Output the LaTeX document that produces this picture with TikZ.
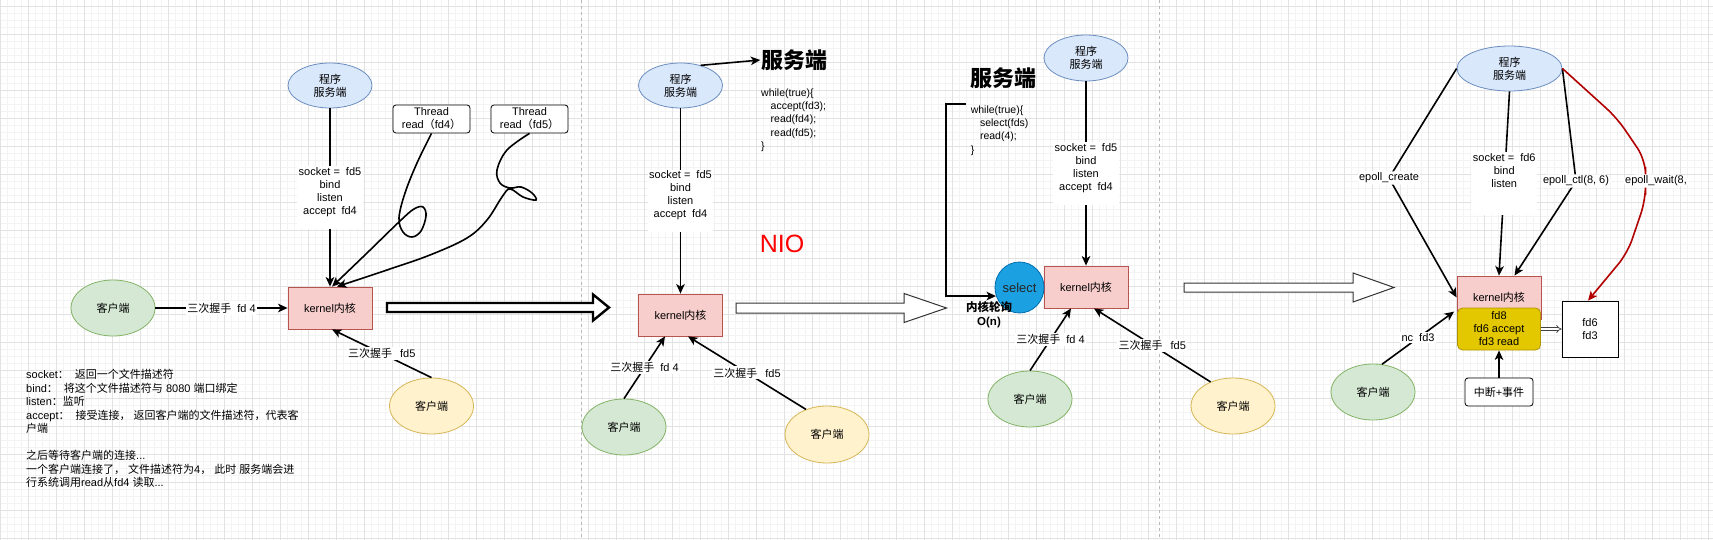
\documentclass[tikz,border=0pt]{standalone}
\usepackage{fontspec}
\setmainfont{Liberation Sans}
\newfontfamily\cjk{Noto Sans CJK SC}
\newcommand\zh[1]{{\cjk #1}}
\usetikzlibrary{arrows.meta,shapes.geometric,calc}
\definecolor{bluefill}{HTML}{DAE8FC}
\definecolor{bluedraw}{HTML}{6C8EBF}
\definecolor{greenfill}{HTML}{D5E8D4}
\definecolor{greendraw}{HTML}{82B366}
\definecolor{yellowfill}{HTML}{FFF2CC}
\definecolor{yellowdraw}{HTML}{D6B656}
\definecolor{redfill}{HTML}{F8CECC}
\definecolor{reddraw}{HTML}{B85450}
\definecolor{selfill}{HTML}{1BA1E2}
\definecolor{seldraw}{HTML}{006EAF}
\definecolor{goldfill}{HTML}{E3C800}
\definecolor{golddraw}{HTML}{B09500}
\definecolor{waitred}{HTML}{B20000}
\definecolor{gridmajor}{HTML}{E2E2E2}
\definecolor{gridminor}{HTML}{F3F3F3}
\definecolor{niored}{HTML}{FF0000}
\definecolor{sepgray}{HTML}{B8B8B8}
\begin{document}
\begin{tikzpicture}[x=1pt,y=-1pt,
  every node/.style={font=\fontsize{11}{13}\selectfont, text=black},
  server/.style={ellipse, draw=bluedraw, fill=bluefill, line width=0.8pt, inner sep=0pt, align=center, minimum width=84pt, minimum height=45pt},
  clientg/.style={ellipse, draw=greendraw, fill=greenfill, line width=0.8pt, inner sep=0pt, minimum width=84pt, minimum height=56pt},
  clienty/.style={ellipse, draw=yellowdraw, fill=yellowfill, line width=0.8pt, inner sep=0pt, minimum width=84pt, minimum height=56pt},
  kernelbox/.style={rectangle, draw=reddraw, fill=redfill, line width=0.8pt, minimum width=84pt, minimum height=42pt, inner sep=0pt},
  threadbox/.style={rectangle, rounded corners=3pt, draw=black, fill=white, line width=0.8pt, minimum width=77pt, minimum height=28pt, inner sep=0pt, align=center},
  plainbox/.style={rectangle, draw=black, fill=white, line width=0.8pt, inner sep=0pt, align=center},
  lbl/.style={fill=white, inner sep=1.5pt, align=center},
  conn/.style={line width=1.6pt, draw=black, -{Stealth[length=9.5pt,width=8.5pt,inset=2.5pt]}},
  hdr/.style={font=\fontsize{22}{26}\selectfont\cjk\bfseries, inner sep=1pt},
  codetext/.style={font=\fontsize{10.5}{13.25}\selectfont, align=left, inner sep=0pt, anchor=north west},
  hollowarrow/.style={line width=1pt, draw=black!80, fill=white, line join=miter},
]
\useasboundingbox (0,0) rectangle (1713,540);
\fill[white] (0,0) rectangle (1713,540);
% grid
\foreach \i in {0,...,245} { \draw[gridminor, line width=0.5pt] ({\i*7+0.3},0) -- ({\i*7+0.3},540); }
\foreach \j in {0,...,77} { \draw[gridminor, line width=0.5pt] (0,{\j*7-1}) -- (1713,{\j*7-1}); }
\foreach \i in {0,...,61} { \draw[gridmajor, line width=0.8pt] ({\i*28+0.3},0) -- ({\i*28+0.3},540); }
\foreach \j in {0,...,19} { \draw[gridmajor, line width=0.8pt] (0,{\j*28+6}) -- (1713,{\j*28+6}); }
% separators
\draw[sepgray, line width=0.8pt, dash pattern=on 3pt off 3pt] (581,0) -- (581,540);
\draw[sepgray, line width=0.8pt, dash pattern=on 3pt off 3pt] (1159,0) -- (1159,540);

% ================= Panel 1 =================
\node[server] (srv1) at (330,85.5) {\zh{程序}\\\zh{服务端}};
\node[threadbox] (t4) at (431.5,119) {Thread\\read\zh{（}fd4\zh{）}};
\node[threadbox] (t5) at (529.5,119) {Thread\\read\zh{（}fd5\zh{）}};
\node[kernelbox] (k1) at (330,308) {kernel\zh{内核}};
\node[clientg] (c1g) at (113,308) {\zh{客户端}};
\node[clienty] (c1y) at (431.5,406) {\zh{客户端}};
\draw[conn] (srv1.south) -- node[lbl]{socket =\hspace{6pt}fd5\\bind\\listen\\accept\hspace{6pt}fd4\\\mbox{}} (k1.north);
\draw[conn] (c1g) -- node[lbl]{\zh{三次握手}\hspace{6pt}fd 4} (k1);
\coordinate (k1a) at ($(k1.south)+(2,0)$);
\draw[conn] (c1y.north) -- node[lbl]{\zh{三次握手}\hspace{8pt}fd5} (k1a);
\coordinate (k1b) at ($(k1.north)+(2,0)$);
\coordinate (k1c) at ($(k1.north)+(7,0)$);
\draw[conn] plot[smooth, tension=0.6] coordinates {(t4.south) (417,163) (405,193) (399,218) (403,232) (412,237) (421,231) (426,216) (423,207) (414,209) (400,221) (366,254) (k1b)};
\draw[conn] plot[smooth, tension=0.6] coordinates {(t5.south) (507,150) (497,170) (500,183) (510,188) (521,187) (532,193) (536,200) (523,197) (510,189) (502,197) (487,220) (467,238) (430,255) (387,270) (k1c)};
\node[anchor=north west, align=left, inner sep=0pt, font=\fontsize{11}{13.5}\selectfont] (notes) at (26,369) {%
socket\zh{：}\hspace{6pt}\zh{返回一个文件描述符}\\
bind\zh{：}\hspace{6pt}\zh{将这个文件描述符与} 8080 \zh{端口绑定}\\
listen\zh{：监听}\\
accept\zh{：}\hspace{6pt}\zh{接受连接，}\hspace{3pt}\zh{返回客户端的文件描述符，代表客}\\
\zh{户端}\\
\mbox{}\\
\zh{之后等待客户端的连接}...\\
\zh{一个客户端连接了，}\hspace{3pt}\zh{文件描述符为}4\zh{，}\hspace{3pt}\zh{此时} \zh{服务端会进}\\
\zh{行系统调用}read\zh{从}fd4 \zh{读取}...};
\draw[line width=2.4pt, draw=black, fill=white, line join=miter] (387,303) -- (593,303) -- (593,294.5) -- (609,307.5) -- (593,320.5) -- (593,312) -- (387,312) -- cycle;

% ================= Panel 2 =================
\node[server] (srv2) at (680.5,85.5) {\zh{程序}\\\zh{服务端}};
\node[hdr] (hdr2) at (794.5,60) {服务端};
\draw[conn] (srv2.45) -- (hdr2.west);
\node[codetext] (code2) at (761,88.5) {while(true)\{\\\hspace*{9.5pt}accept(fd3);\\\hspace*{9.5pt}read(fd4);\\\hspace*{9.5pt}read(fd5);\\\}};
\node[kernelbox] (k2) at (680.5,315) {kernel\zh{内核}};
\draw[conn] (srv2.south) -- node[lbl]{socket =\hspace{6pt}fd5\\bind\\listen\\accept\hspace{6pt}fd4\\\mbox{}} (k2.north);
\node[text=niored, font=\fontsize{25}{28}\selectfont, inner sep=0pt] (nio) at (782,244) {NIO};
\node[clientg] (c2g) at (624,427) {\zh{客户端}};
\node[clienty, minimum height=57pt] (c2y) at (827,434.5) {\zh{客户端}};
\coordinate (k2a) at ($(k2.south)+(-15.5,0)$);
\coordinate (k2b) at ($(k2.south)+(7.5,0)$);
\draw[conn] (c2g.north) -- node[lbl]{\zh{三次握手}\hspace{6pt}fd 4} (k2a);
\draw[conn] (c2y.130) -- node[lbl]{\zh{三次握手}\hspace{8pt}fd5} (k2b);
\draw[hollowarrow] (736,303) -- (904,303) -- (904,293.5) -- (946.5,308) -- (904,322.5) -- (904,313) -- (736,313) -- cycle;

% ================= Panel 3 =================
\node[hdr] (hdr3) at (1003.5,78) {服务端};
\node[server, minimum height=46pt] (srv3) at (1086,58) {\zh{程序}\\\zh{服务端}};
\node[codetext] (code3) at (970.6,105.5) {while(true)\{\\\hspace*{9.2pt}select(fds)\\\hspace*{9.2pt}read(4);\\\}};
\node[kernelbox] (k3) at (1086,287) {kernel\zh{内核}};
\node[ellipse, draw=seldraw, fill=selfill, line width=0.8pt, inner sep=0pt, minimum width=49pt, minimum height=51pt, font=\fontsize{13}{15}\selectfont, text=black!85] (sel) at (1019.5,287.5) {select};
\draw[conn] (srv3.south) -- node[lbl]{socket =\hspace{6pt}fd5\\bind\\listen\\accept\hspace{6pt}fd4\\\mbox{}} (k3.north);
\coordinate (brk) at (966,104);
\draw[conn] (brk) -- (945.7,104) |- (sel.200);
\node[align=center, inner sep=0pt, font=\fontsize{11.5}{14.5}\selectfont\bfseries] (poll) at (989,314.5) {\zh{\bfseries 内核轮询}\\O(n)};
\node[clientg] (c3g) at (1030,399) {\zh{客户端}};
\node[clienty] (c3y) at (1233,406) {\zh{客户端}};
\coordinate (k3a) at ($(k3.south)+(-15,0)$);
\coordinate (k3b) at ($(k3.south)+(8,0)$);
\draw[conn] (c3g.north) -- node[lbl]{\zh{三次握手}\hspace{6pt}fd 4} (k3a);
\draw[conn] (c3y.133) -- node[lbl]{\zh{三次握手}\hspace{8pt}fd5} (k3b);
\draw[hollowarrow] (1184,283) -- (1353,283) -- (1353,273) -- (1394,287.5) -- (1353,302) -- (1353,292) -- (1184,292) -- cycle;

% ================= Panel 4 =================
\node[server, minimum width=105pt] (srv4) at (1509.5,68.5) {\zh{程序}\\\zh{服务端}};
\node[kernelbox, minimum height=43pt] (k4) at (1499,297.5) {kernel\zh{内核}};
\node[rectangle, rounded corners=5pt, draw=golddraw, fill=goldfill, line width=0.8pt, minimum width=83pt, minimum height=42pt, inner sep=0pt, align=center, font=\fontsize{11}{13}\selectfont] (gold) at (1499,329) {fd8\\fd6 accept\\fd3 read};
\node[plainbox, minimum width=56pt, minimum height=56pt] (fdbox) at (1590,329) {fd6\\fd3};
\node[plainbox, rounded corners=3pt, minimum width=68pt, minimum height=28pt] (intr) at (1499,392) {\zh{中断}+\zh{事件}};
\node[clientg] (c4g) at (1373,392) {\zh{客户端}};
\draw[conn, rounded corners=6pt] (srv4.west) -- (1389,178) node[lbl]{epoll\_create} -- (k4.west);
\draw[conn] (srv4.south) -- node[lbl]{socket =\hspace{6pt}fd6\\bind\\listen\\\mbox{}\\\mbox{}} (k4.north);
\coordinate (k4a) at ($(k4.north)+(15.5,0)$);
\draw[conn, rounded corners=6pt] (srv4.east) -- (1576,181) node[lbl]{epoll\_ctl(8, 6)} -- (k4a);
\coordinate (fdtop) at ($(fdbox.north)+(-2,0)$);
\draw[conn, draw=waitred, rounded corners=14pt] (srv4.east) -- (1617,118) -- (1645.5,160) -- (1645.5,181) node[lbl, xshift=10.5pt]{epoll\_wait(8,} -- (1645.5,200) -- (1627.5,253) -- (fdtop);
\coordinate (golda) at ($(gold.north west)+(-3,4)$);
\draw[conn] (c4g.72) -- node[lbl]{nc\hspace{6pt}fd3} (golda);
\draw[conn] (intr.north) -- (gold.south);
\draw[double, double distance=2pt, draw=black!75, line width=0.7pt, -{Implies}] (gold.east) -- (fdbox.west);
\end{tikzpicture}
\end{document}
